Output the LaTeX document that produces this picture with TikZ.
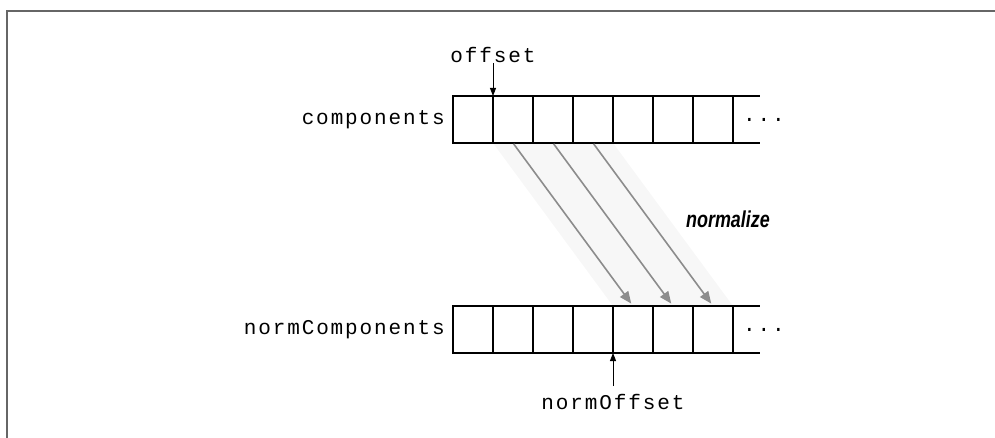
\documentclass[tikz,border=0pt]{standalone}
\usepackage{fontspec}
\usetikzlibrary{arrows.meta,positioning,backgrounds}

\newfontfamily\codefont[LetterSpace=9]{Liberation Mono}
\newfontfamily\labelfont{Liberation Sans}

\begin{document}
\begin{tikzpicture}[x=1pt, y=-1pt,
    cell/.style={draw, line width=1.8pt, minimum width=40pt, minimum height=47pt, inner sep=0pt, outer sep=0pt},
    code/.style={font=\codefont\fontsize{21}{25}\selectfont, inner sep=0pt},
    move/.style={draw=black!45, line width=1.6pt, -{Triangle[length=12pt,width=10pt]}, shorten >=3pt, shorten <=1pt},
    pointer/.style={line width=0.9pt, -{Triangle[length=8pt,width=6pt]}}]

    \useasboundingbox (0,0) rectangle (995,438);

    % ==========================================
    % FRAME (top and left edge only)
    % ==========================================
    \draw[line width=2pt, black!60] (7,438) -- (7,11) -- (995,11);

    % ==========================================
    % ARRAYS: components (top) and normComponents (bottom)
    % ==========================================
    \foreach \i in {0,...,6} {
        \node[cell] (c\i) at (473+40*\i, 119.5) {};
        \node[cell] (n\i) at (473+40*\i, 329.5) {};
    }

    % Open ends of both arrays
    \draw[line width=1.8pt] (c6.north east) -- ++(27,0);
    \draw[line width=1.8pt] (c6.south east) -- ++(27,0);
    \draw[line width=1.8pt] (n6.north east) -- ++(27,0);
    \draw[line width=1.8pt] (n6.south east) -- ++(27,0);

    \node[code] (cdots) at (764,119.5) {...};
    \node[code] (ndots) at (764,329.5) {...};

    % Array names
    \node[code, left=8pt of c0] (components) {components};
    \node[code, left=8pt of n0] (normcomponents) {normComponents};

    % ==========================================
    % POINTERS
    % ==========================================
    \node[code] (offset) at (493,55) {offset};
    \draw[pointer] (offset.south) -- (c0.north east);

    \node[code] (normoffset) at (613,402) {normOffset};
    \draw[pointer] ([yshift=8pt]normoffset.north) -- (n3.south east);

    % ==========================================
    % NORMALIZE: shaded band and arrows
    % ==========================================
    \begin{scope}[on background layer]
        \fill[black!3] (c1.south west) -- (c3.south east) -- (n6.north east) -- (n4.north west) -- cycle;
    \end{scope}

    \foreach \a/\b in {1/4, 2/5, 3/6}
        \draw[move] (c\a.south) -- (n\b.north);

    \node[font=\labelfont\bfseries\itshape\fontsize{23}{27}\selectfont] (normalize) at (728,219) {\scalebox{0.78}[1]{normalize}};

\end{tikzpicture}
\end{document}
